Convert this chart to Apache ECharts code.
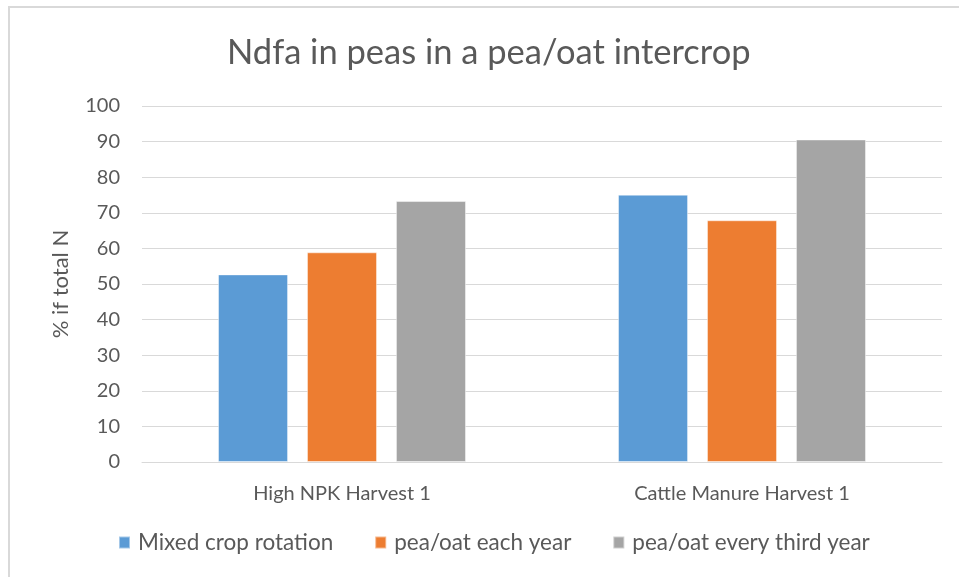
<!DOCTYPE html>
<html>
<head>
<meta charset="utf-8">
<script src="https://cdn.jsdelivr.net/npm/echarts@6/dist/echarts.min.js"></script>
<style>
html, body { margin: 0; padding: 0; background: #fff; }
#the-echart { width: 959px; height: 577px; }
</style>
</head>
<body>
<div id="the-echart"></div>
<script>
// values
const categories = ['High NPK Harvest 1', 'Cattle Manure Harvest 1']
const seriesNames = ['Mixed crop rotation', 'pea/oat each year', 'pea/oat every third year']
const mixedRotation = [52.7, 75.1]
const peaOatEachYear = [58.9, 67.9]
const peaOatThirdYear = [73.3, 90.6]
const yTicks = [0, 10, 20, 30, 40, 50, 60, 70, 80, 90, 100]

const colors = ['#5B9BD5', '#ED7D31', '#A5A5A5']
const font = 'Lato, "Open Sans", sans-serif'

let chart = echarts.init(document.getElementById('the-echart'))

let seriesData = [mixedRotation, peaOatEachYear, peaOatThirdYear]

chart.setOption({
  animation: false,
  color: colors,
  textStyle: {fontFamily: font},
  graphic: [{
    type: 'rect',
    shape: {x: 9, y: 7, width: 1000, height: 1000},
    style: {fill: 'none', stroke: '#D9D9D9', lineWidth: 2},
    silent: true
  }],
  title: {
    text: 'Ndfa in peas in a pea/oat intercrop',
    left: 222,
    top: 30,
    textStyle: {fontFamily: font, fontSize: 34.5, fontWeight: 'normal', color: '#595959'}
  },
  legend: {
    data: seriesNames,
    bottom: 18,
    left: 113,
    icon: 'rect',
    itemWidth: 11,
    itemHeight: 12,
    itemGap: 41,
    textStyle: {fontFamily: font, fontSize: 22.5, color: '#595959', padding: [0, 0, 0, 3]}
  },
  grid: {left: 142, right: 17, top: 106, bottom: 115, containLabel: false},
  xAxis: {
    type: 'category',
    data: categories,
    axisLine: {show: true, lineStyle: {color: '#D9D9D9', width: 1}},
    axisTick: {show: false},
    axisLabel: {fontFamily: font, fontSize: 20, color: '#595959', margin: 22}
  },
  yAxis: {
    type: 'value',
    min: yTicks[0],
    max: yTicks[yTicks.length - 1],
    interval: 10,
    name: '% if total N',
    nameLocation: 'middle',
    nameGap: 70,
    nameTextStyle: {fontFamily: font, fontSize: 22, color: '#595959'},
    axisLine: {show: false},
    axisTick: {show: false},
    axisLabel: {fontFamily: font, fontSize: 20, color: '#595959', margin: 22},
    splitLine: {lineStyle: {color: '#D9D9D9', width: 1}}
  },
  series: seriesNames.map((name, index) => {
    return {
      name: name,
      type: 'bar',
      data: seriesData[index],
      barGap: '27%',
      barCategoryGap: '38%',
      itemStyle: {borderColor: 'rgba(255,255,255,0.45)', borderWidth: 1}
    }
  })
})
</script>
</body>
</html>
